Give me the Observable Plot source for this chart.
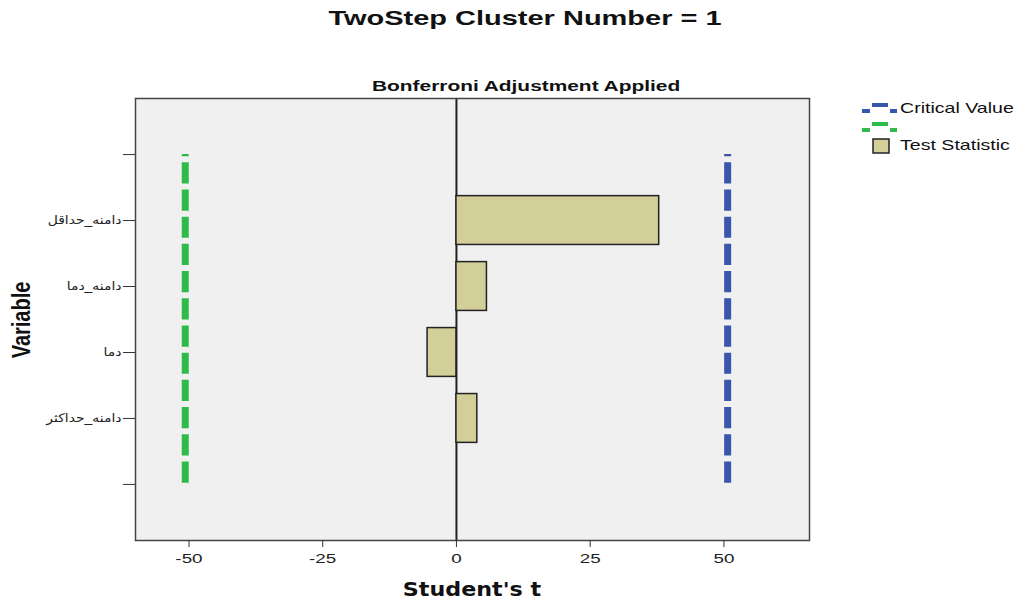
<!DOCTYPE html>
<html>
<head>
<meta charset="utf-8">
<script src="https://cdn.jsdelivr.net/npm/d3@7"></script>
<script src="https://cdn.jsdelivr.net/npm/@observablehq/plot@0.6"></script>
<style>
  html, body { margin: 0; padding: 0; background: #fff; }
  body { width: 1016px; height: 603px; position: relative; overflow: hidden; font-family: "Liberation Sans", Arial, "DejaVu Sans", sans-serif; }
  #title { height: 40px; line-height: 36px; font-weight: bold; font-size: 21px; color: #111; position: relative; }
  #title span { position: absolute; left: 525px; top: 0; white-space: nowrap; transform: translateX(-50%) scaleX(1.38); }
  .abs { position: absolute; white-space: nowrap; color: #111; }
  #subtitle { left: 372px; top: 78px; font-weight: bold; font-size: 14.5px; transform-origin: 0 50%; transform: scaleX(1.44); }
  #xlabel { left: 472px; top: 578px; transform: translateX(-50%) scaleX(1.17); font-weight: bold; font-size: 19px; font-family: "DejaVu Sans", sans-serif; }
  #ylabel { left: 22px; top: 320px; transform: translate(-50%, -50%) rotate(-90deg) scaleY(1.3); font-weight: bold; font-size: 20px; }
  #legend { left: 860px; top: 98px; font-size: 14.5px; color: #111; }
  .lg { position: absolute; white-space: nowrap; }
  .lgt { transform-origin: 0 50%; transform: scaleX(1.35); }
  svg.plot text { fill: #222; }
</style>
</head>
<body>
<div id="title"><span>TwoStep Cluster Number = 1</span></div>
<div id="chart"></div>
<div id="subtitle" class="abs">Bonferroni Adjustment Applied</div>
<div id="xlabel" class="abs">Student's t</div>
<div id="ylabel" class="abs">Variable</div>
<div id="legend" class="abs"></div>
<script>
// ---- data ----
const categories = ["", "دامنه_حداقل", "دامنه_دما", "دما", "دامنه_حداکثر", ""];
const variables = ["دامنه_حداقل", "دامنه_دما", "دما", "دامنه_حداکثر"];
const testStatistic = [37.9, 5.7, -5.4, 3.9];
const criticalValue = 50.7;
const xTicks = [-50, -25, 0, 25, 50];
const legendLabels = ["Critical Value", "", "Test Statistic"];

const blue = "#3a56ab";
const green = "#2fba4b";
const tan = "#d3cf98";

const rows = variables.map((v, i) => ({variable: v, index: categories.indexOf(v), t: testStatistic[i]}));
const half = 0.37;

const chart = Plot.plot({
  width: 1016,
  height: 563,
  marginTop: 58,
  marginBottom: 63,
  marginLeft: 135,
  marginRight: 207,
  style: {fontFamily: "'Liberation Sans', Arial, 'DejaVu Sans', sans-serif", background: "transparent", overflow: "visible"},
  className: "plot",
  x: {domain: [-60, 66], label: null},
  y: {domain: [-0.85, 5.85], reverse: true, label: null},
  marks: [
    Plot.frame({fill: "#f0f0f0", stroke: "none"}),
    Plot.ruleX([0], {stroke: "#222", strokeWidth: 2}),
    Plot.rectX(rows, {
      x1: 0, x2: "t",
      y1: d => d.index - half, y2: d => d.index + half,
      fill: tan, stroke: "#222", strokeWidth: 1.5
    }),
    Plot.ruleX([criticalValue], {y1: 0, y2: categories.length - 1, stroke: blue, strokeWidth: 7, strokeDasharray: "21.2,6", strokeDashoffset: 19}),
    Plot.ruleX([-criticalValue], {y1: 0, y2: categories.length - 1, stroke: green, strokeWidth: 7, strokeDasharray: "21.2,6", strokeDashoffset: 19}),
    Plot.frame({stroke: "#444", strokeWidth: 1.5}),
    Plot.axisX({ticks: xTicks, tickFormat: d => String(d), tickSize: 7, tickPadding: 6, fontSize: 13, label: null, stroke: "#333"}),
    Plot.axisY({ticks: d3.range(categories.length), tickFormat: i => categories[i], tickSize: 12, tickPadding: 2, fontSize: 12, label: null, stroke: "#333"})
  ]
});
document.getElementById("chart").appendChild(chart);

// widen tick labels horizontally like the reference rendering
function stretch(sel, k) {
  d3.select(chart).selectAll(sel).each(function() {
    const t = this.getAttribute("transform") || "";
    this.setAttribute("transform", (t + ` scale(${k},1)`).trim());
    const x = this.getAttribute("x");
    if (x != null && x !== "") this.setAttribute("x", +x / k);
  });
}
stretch("g[aria-label='x-axis tick label'] text", 1.45);
stretch("g[aria-label='y-axis tick label'] text", 1.16);

// legend
const lg = document.getElementById("legend");
const iconDash = c => `<svg width="38" height="14" style="position:absolute;left:0;top:0"><rect x="2" y="9" width="8" height="4" fill="${c}"/><rect x="12" y="3" width="16" height="4" fill="${c}"/><rect x="30" y="9" width="7" height="4" fill="${c}"/></svg>`;
lg.innerHTML =
  `<div class="lg" style="left:0;top:2px">${iconDash(blue)}</div>` +
  `<div class="lg lgt" style="left:40px;top:2px">${legendLabels[0]}</div>` +
  `<div class="lg" style="left:0;top:21px">${iconDash(green)}</div>` +
  `<div class="lg" style="left:12px;top:40px"><svg width="18" height="16"><rect x="1" y="1" width="16" height="14" fill="${tan}" stroke="#222" stroke-width="1.5"/></svg></div>` +
  `<div class="lg lgt" style="left:40px;top:39px">${legendLabels[2]}</div>`;
</script>
</body>
</html>
